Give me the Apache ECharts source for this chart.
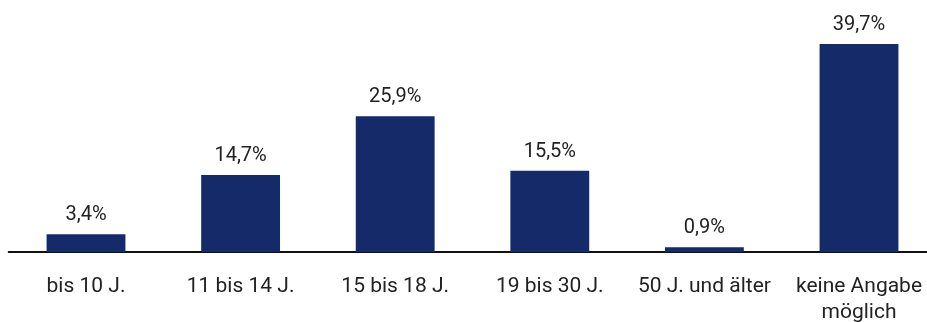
<!DOCTYPE html>
<html><head><meta charset="utf-8">
<script src="https://cdn.jsdelivr.net/npm/echarts@6/dist/echarts.min.js"></script>
<style>html,body{margin:0;padding:0;background:#fff}#c{width:927px;height:322px}</style>
</head><body><div id="c"></div>
<script>
const categories = ["bis 10 J.", "11 bis 14 J.", "15 bis 18 J.", "19 bis 30 J.", "50 J. und älter", "keine Angabe\nmöglich"];
const values = [3.4, 14.7, 25.9, 15.5, 0.9, 39.7];

const chart = echarts.init(document.getElementById('c'), null, {renderer: 'canvas'});
chart.setOption({
  animation: false,
  grid: {left: 8.7, top: 16.2, right: -9.3, bottom: 70, containLabel: false, outerBoundsMode: 'none'},
  xAxis: {
    type: 'category', data: categories,
    axisLine: {show: true, lineStyle: {color: '#111', width: 2}},
    axisTick: {show: false},
    axisLabel: {interval: 0, color: '#222', fontSize: 21, fontFamily: 'Roboto', margin: 22, lineHeight: 26, hideOverlap: false}
  },
  yAxis: {type: 'value', min: 0, max: 45, show: false, splitLine: {show: false}},
  series: [{
    type: 'bar', data: values, barWidth: '51%',
    itemStyle: {color: '#142a69'},
    label: {show: true, position: 'top', distance: 9, color: '#222', fontSize: 20, fontFamily: 'Roboto',
      formatter: p => p.value.toFixed(1).replace('.', ',') + '%'}
  }]
});
</script></body></html>
